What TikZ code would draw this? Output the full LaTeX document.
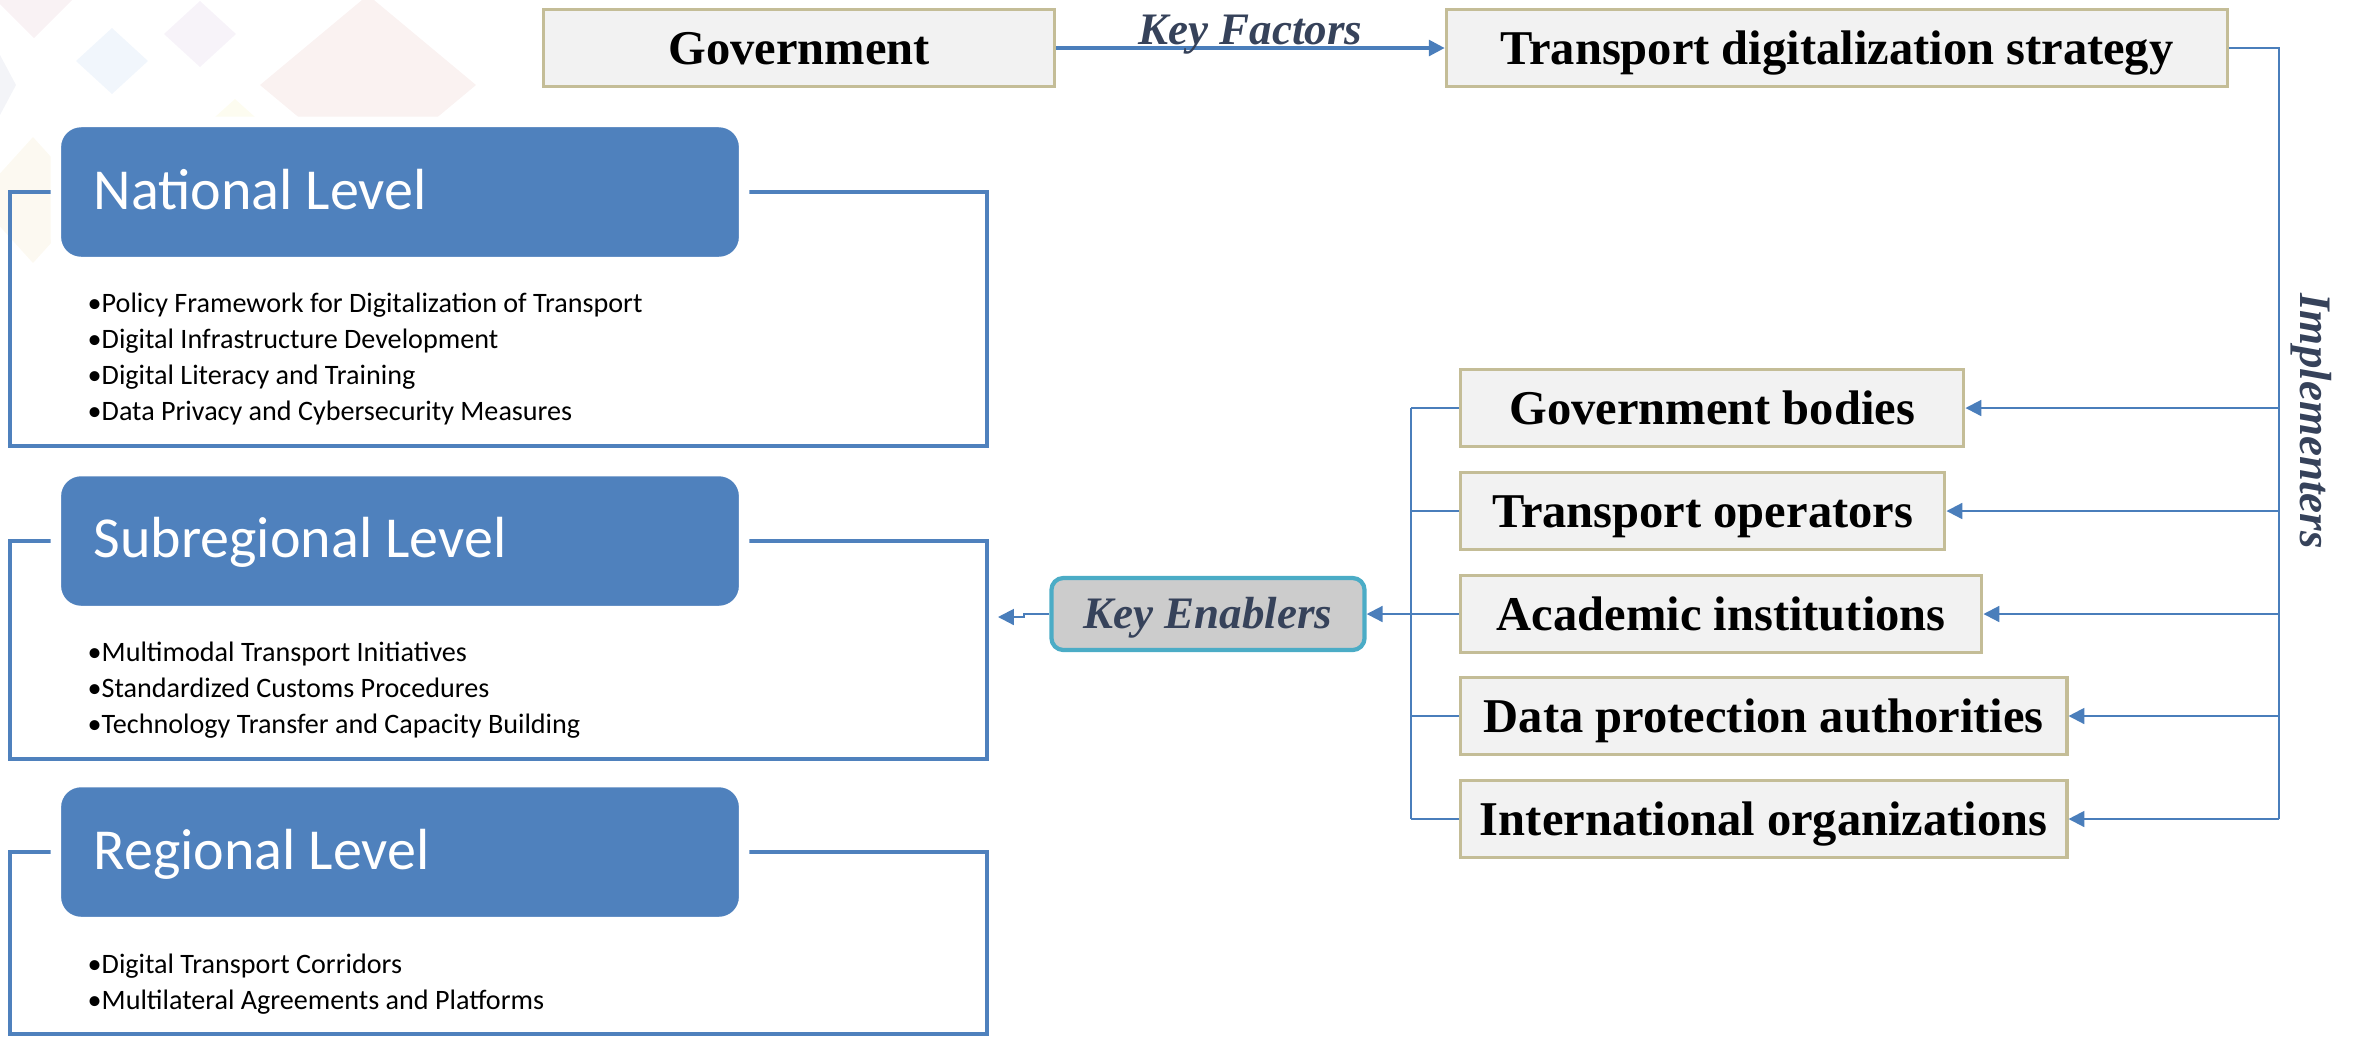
\documentclass[tikz,border=0pt]{standalone}
\usepackage{fontspec}
\setmainfont{Liberation Serif}
\newfontfamily\calibri{Carlito}
\usetikzlibrary{arrows.meta}

\definecolor{linkblue}{HTML}{4A7EBB}
\definecolor{headblue}{HTML}{4F81BD}
\definecolor{boxgrey}{HTML}{F2F2F2}
\definecolor{boxtan}{HTML}{C4BD97}
\definecolor{keytext}{HTML}{36425A}
\definecolor{keyteal}{HTML}{4BACC6}
\definecolor{keyfill}{HTML}{CCCCCC}
\definecolor{diapink}{HTML}{F9F2F4}
\definecolor{diablue}{HTML}{F1F6FC}
\definecolor{dialav}{HTML}{F7F3F9}
\definecolor{diapeach}{HTML}{FAF2F1}
\definecolor{diagrey}{HTML}{F3F4F8}
\definecolor{diayel}{HTML}{FDFCF0}
\definecolor{diacream}{HTML}{FCF9F1}

\begin{document}
\begin{tikzpicture}[x=0.01cm, y=-0.01cm,
    actor/.style={draw=boxtan, line width=0.9pt, fill=boxgrey, inner sep=0pt,
      minimum height=0.77cm, text height=9.1pt, text depth=0pt,
      font=\fontsize{13.8}{16}\selectfont\bfseries},
    link/.style={draw=linkblue, line width=0.6pt},
    arrowend/.style={-{Triangle[length=4.5pt, width=4.5pt]}},
    keylabel/.style={text=keytext, inner sep=0pt, text depth=0pt,
      font=\fontsize{12.8}{15}\selectfont\bfseries\itshape},
    keybox/.style={keylabel, draw=keyteal, fill=keyfill, line width=1.2pt,
      rounded corners=0.12cm, minimum width=3.13cm, minimum height=0.72cm,
      text height=8.5pt},
    levelframe/.style={draw=headblue, line width=1.2pt},
    levelhead/.style={fill=headblue, draw=white, line width=3pt,
      rounded corners=0.25cm, minimum width=6.88cm, minimum height=1.40cm,
      inner sep=0pt},
    leveltitle/.style={anchor=base west, inner sep=0pt, text=white,
      font=\calibri\fontsize{16.5}{19}\selectfont},
    pointtext/.style={anchor=base west, inner sep=0pt,
      font=\calibri\fontsize{8}{9.5}\selectfont}]
\useasboundingbox (0,0) rectangle (2356,1038);

% faint background pattern
\begin{scope}
  \clip (0,0) rectangle (720,122);
  \foreach \cx/\cy/\hw/\hh/\col in {34/0/38/38/diapink, 112/61/36/33/diablue,
      200/34/36/33/dialav, 368/85/108/90/diapeach, 0/85/16/30/diagrey,
      235/135/40/36/diayel}
    \fill[\col] (\cx,\cy-\hh) -- (\cx+\hw,\cy) -- (\cx,\cy+\hh) -- (\cx-\hw,\cy) -- cycle;
\end{scope}
\fill[diacream] (33,137) -- (90,200) -- (33,263) -- (-24,200) -- cycle;

% strategy
\node[actor, minimum width=5.11cm] (gov) at (799,48) {Government};
\node[actor, minimum width=7.81cm] (tds) at (1837,48) {Transport digitalization strategy};
\draw[link, line width=0.9pt, arrowend] (gov) -- node[keylabel, above=0.5pt] (kf) {Key Factors} (tds);

% implementers
\foreach \nm/\txt/\yy/\ww in {gb/Government bodies/408/5.03,
    to/Transport operators/511/4.84, ai/Academic institutions/614/5.21,
    dp/Data protection authorities/716/6.06, io/International organizations/819/6.06}
  \node[actor, anchor=west, minimum width=\ww cm] (\nm) at (1459,\yy) {\txt};

\coordinate (trunk) at (2279,48);
\coordinate (bus) at (1411,614);
\draw[link, line width=0.8pt] (tds.east) -- (trunk) -- (trunk |- io.east);
\node[keylabel, rotate=-90] (impl) at (2316,421) {Implementers};
\draw[link] (bus |- gb.west) -- (bus |- io.west);
\foreach \nm in {gb,to,ai,dp,io}{
  \draw[link, arrowend] (trunk |- \nm.east) -- (\nm.east);
  \draw[link] (\nm.west) -- (bus |- \nm.west);
}

% enablers
\node[keybox] (ke) at (1208,614) {Key Enablers};
\coordinate (keend) at (998,617);
\draw[link, arrowend] (bus) -- (ke.east);
\draw[link, arrowend] (ke.west) -- ++(-25,0) |- (keend);

% national
\draw[levelframe] (10,192) rectangle (987,446);
\node[levelhead] (nathead) at (400,192) {};
\node[leveltitle] (nattitle) at (93,209) {National Level};
\node[pointtext] (nat1) at (87,312) {•Policy Framework for Digitalization of Transport};
\node[pointtext] (nat2) at (87,348) {•Digital Infrastructure Development};
\node[pointtext] (nat3) at (87,384) {•Digital Literacy and Training};
\node[pointtext] (nat4) at (87,420) {•Data Privacy and Cybersecurity Measures};

% subregional
\draw[levelframe] (10,541) rectangle (987,759);
\node[levelhead] (subhead) at (400,541) {};
\node[leveltitle] (subtitle) at (93,557) {Subregional Level};
\node[pointtext] (sub1) at (87,661) {•Multimodal Transport Initiatives};
\node[pointtext] (sub2) at (87,697) {•Standardized Customs Procedures};
\node[pointtext] (sub3) at (87,733) {•Technology Transfer and Capacity Building};

% regional
\draw[levelframe] (10,852) rectangle (987,1034);
\node[levelhead] (reghead) at (400,852) {};
\node[leveltitle] (regtitle) at (93,869) {Regional Level};
\node[pointtext] (reg1) at (87,973) {•Digital Transport Corridors};
\node[pointtext] (reg2) at (87,1009) {•Multilateral Agreements and Platforms};
\end{tikzpicture}
\end{document}
